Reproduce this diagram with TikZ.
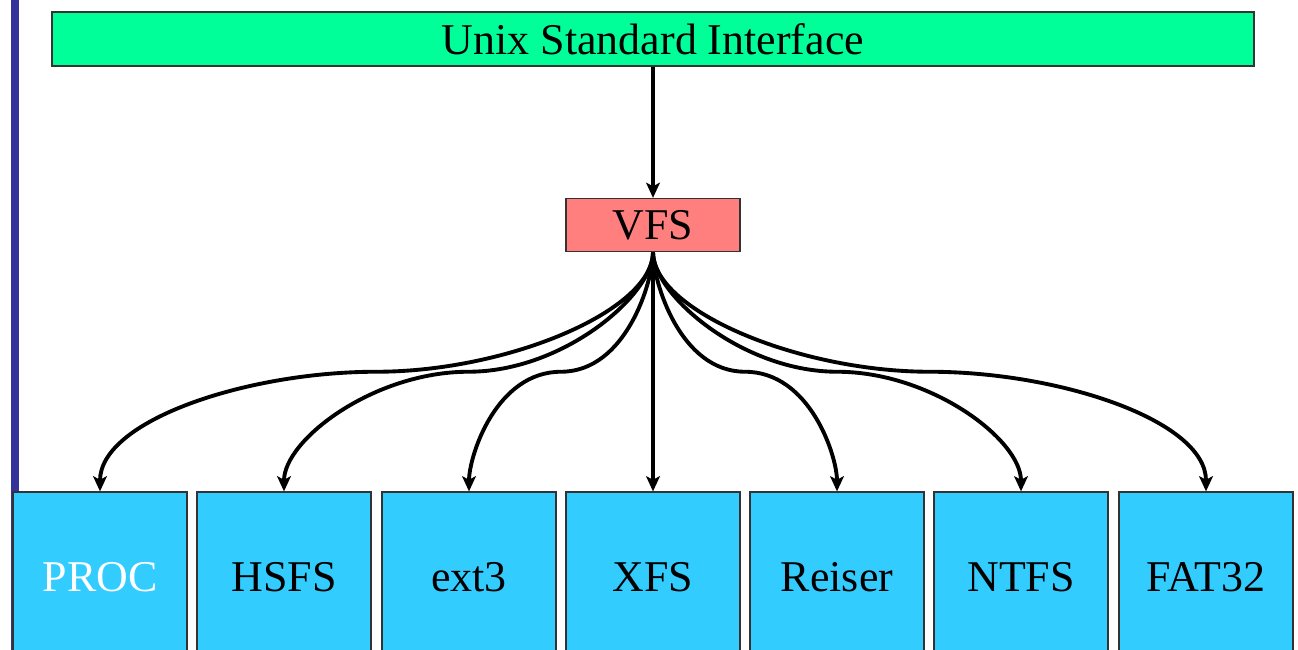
\documentclass[tikz,border=0pt]{standalone}
\usepackage{fontspec}
\setmainfont{Liberation Serif}
\usetikzlibrary{calc,arrows.meta}
\definecolor{ifacegreen}{HTML}{00FF99}
\definecolor{vfsred}{HTML}{FF7F7F}
\definecolor{fsblue}{HTML}{33CCFF}
\definecolor{barblue}{HTML}{333399}

\begin{document}
\begin{tikzpicture}[x=0.1mm,y=-0.1mm,font=\fontsize{12.5}{15}\selectfont]
  \tikzset{
    layer/.style={draw=black!80,line width=0.35pt,inner sep=0pt},
    fsbox/.style={layer,fill=fsblue,minimum width=17.4mm,minimum height=17mm},
    link/.style={line width=1.1pt,-{Stealth[length=4.3pt,width=3.9pt,inset=1pt]}}
  }
  \clip (0,0) rectangle (1298,650);
  \fill[barblue] (11,0) rectangle (19,650);
  \node[layer,fill=ifacegreen,minimum width=120.2mm,minimum height=5.4mm] (iface) at (653,39) {Unix Standard Interface};
  \node[layer,fill=vfsred,minimum width=17.4mm,minimum height=5.3mm] (vfs) at (653,225) {VFS};
  \node[fsbox,text=white] (proc) at (100,577) {PROC};
  \node[fsbox] (hsfs) at (284,577) {HSFS};
  \node[fsbox] (ext) at (469,577) {ext3};
  \node[fsbox] (xfs) at (653,577) {XFS};
  \node[fsbox] (reiser) at (837,577) {Reiser};
  \node[fsbox] (ntfs) at (1021,577) {NTFS};
  \node[fsbox] (fat) at (1206,577) {FAT32};
  \draw[link] (iface.south) -- (vfs.north);
  \draw[link] (vfs.south) -- (xfs.north);
  \foreach \fs in {proc,hsfs,ext}
    \draw[link] (vfs.south) to[out=-90,in=0,out looseness=0.5,in looseness=1.1] ($(vfs.south)!0.5!(\fs.north)$)
      to[out=180,in=90,out looseness=1.1,in looseness=0.6] (\fs.north);
  \foreach \fs in {reiser,ntfs,fat}
    \draw[link] (vfs.south) to[out=-90,in=180,out looseness=0.5,in looseness=1.1] ($(vfs.south)!0.5!(\fs.north)$)
      to[out=0,in=90,out looseness=1.1,in looseness=0.6] (\fs.north);
\end{tikzpicture}
\end{document}
